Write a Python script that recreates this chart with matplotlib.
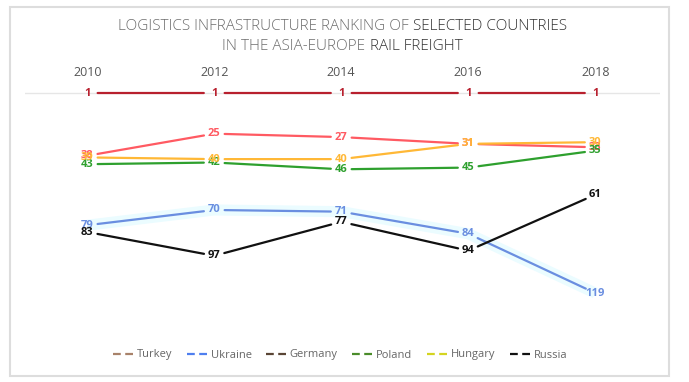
import matplotlib.pyplot as plt
from matplotlib.patches import Rectangle
from matplotlib.offsetbox import TextArea, HPacker, AnchoredOffsetbox

plt.rcParams['font.family'] = ['Open Sans', 'DejaVu Sans']

years = [2010, 2012, 2014, 2016, 2018]
countries = ['Turkey', 'Ukraine', 'Germany', 'Poland', 'Hungary', 'Russia']

turkey = [38, 25, 27, 31, 33]
ukraine = [79, 70, 71, 84, 119]
germany = [1, 1, 1, 1, 1]
poland = [43, 42, 46, 45, 35]
hungary = [39, 40, 40, 31, 30]
russia = [83, 97, 77, 94, 61]

series = [turkey, ukraine, germany, poland, hungary, russia]
line_colors = ['#ff5a62', '#6a8ee0', '#b8202e', '#2ea02e', '#ffb836', '#111111']
legend_colors = ['#a8826a', '#4f7fef', '#5a4535', '#4a8c2a', '#d4d420', '#111111']
# draw order so the overlapping labels stack like the original
order = [1, 5, 2, 0, 3, 4]

fig = plt.figure(figsize=(6.89, 3.82), dpi=100)
W, H = 689, 382

# light frame round the card
fig.patches.append(Rectangle((10 / W, 1 - 376 / H), 659 / W, 369 / H,
                             transform=fig.transFigure, fill=False,
                             edgecolor='#dddddd', linewidth=1.5))

# axes placed in pixels: x 25..660, y 80..320
ax = fig.add_axes([25 / W, 1 - 320 / H, 635 / W, 240 / H])
ax.set_xlim(2009.02, 2019.02)
ax.set_ylim(134.9, -6.67)
for s in ax.spines.values():
    s.set_visible(False)
ax.set_yticks([])
ax.xaxis.tick_top()
ax.set_xticks(years)
ax.set_xticklabels([str(y) for y in years])
ax.tick_params(axis='x', length=0, pad=1, labelsize=9, labelcolor='#555555')
ax.axhline(1, color='#e6e6e6', lw=1, zorder=0)

# faint glow behind the Ukraine line
ax.plot(years, ukraine, color='#ebfcff', lw=8, solid_capstyle='butt', zorder=0.5)

for i in order:
    vals = series[i]
    c = line_colors[i]
    for k in range(len(years) - 1):
        ax.annotate('', xy=(years[k + 1], vals[k + 1]), xytext=(years[k], vals[k]),
                    arrowprops=dict(arrowstyle='-', color=c, lw=1.6,
                                    shrinkA=7.5, shrinkB=7.5), zorder=2)
    for x, v in zip(years, vals):
        ax.text(x, v, str(v), color=c, fontsize=8, fontweight='bold',
                ha='center', va='center', zorder=3)

# legend with dashed handles
handles = [plt.Line2D([], [], color=c, lw=1.6, dashes=(3.5, 2)) for c in legend_colors]
fig.legend(handles, countries, loc='center', bbox_to_anchor=(340 / W, 1 - 355 / H),
           ncol=6, frameon=False, fontsize=8, labelcolor='#666666',
           handlelength=2.0, handletextpad=0.15, columnspacing=1.3)

# two-tone title
def title_line(parts, y):
    areas = [TextArea(t, textprops=dict(color=c, fontsize=11, fontweight='light'))
             for t, c in parts]
    box = HPacker(children=areas, align='baseline', pad=0, sep=3.5)
    anchored = AnchoredOffsetbox(loc='center', child=box, frameon=False,
                                 bbox_to_anchor=(0.497, 1 - y / H),
                                 bbox_transform=fig.transFigure, pad=0, borderpad=0)
    fig.add_artist(anchored)

title_line([('LOGISTICS INFRASTRUCTURE RANKING OF', '#6d6d6d'),
            ('SELECTED COUNTRIES', '#333333')], 27)
title_line([('IN THE ASIA-EUROPE', '#6d6d6d'), ('RAIL FREIGHT', '#333333')], 47)

fig.savefig('out.png', dpi=100, facecolor='white')
